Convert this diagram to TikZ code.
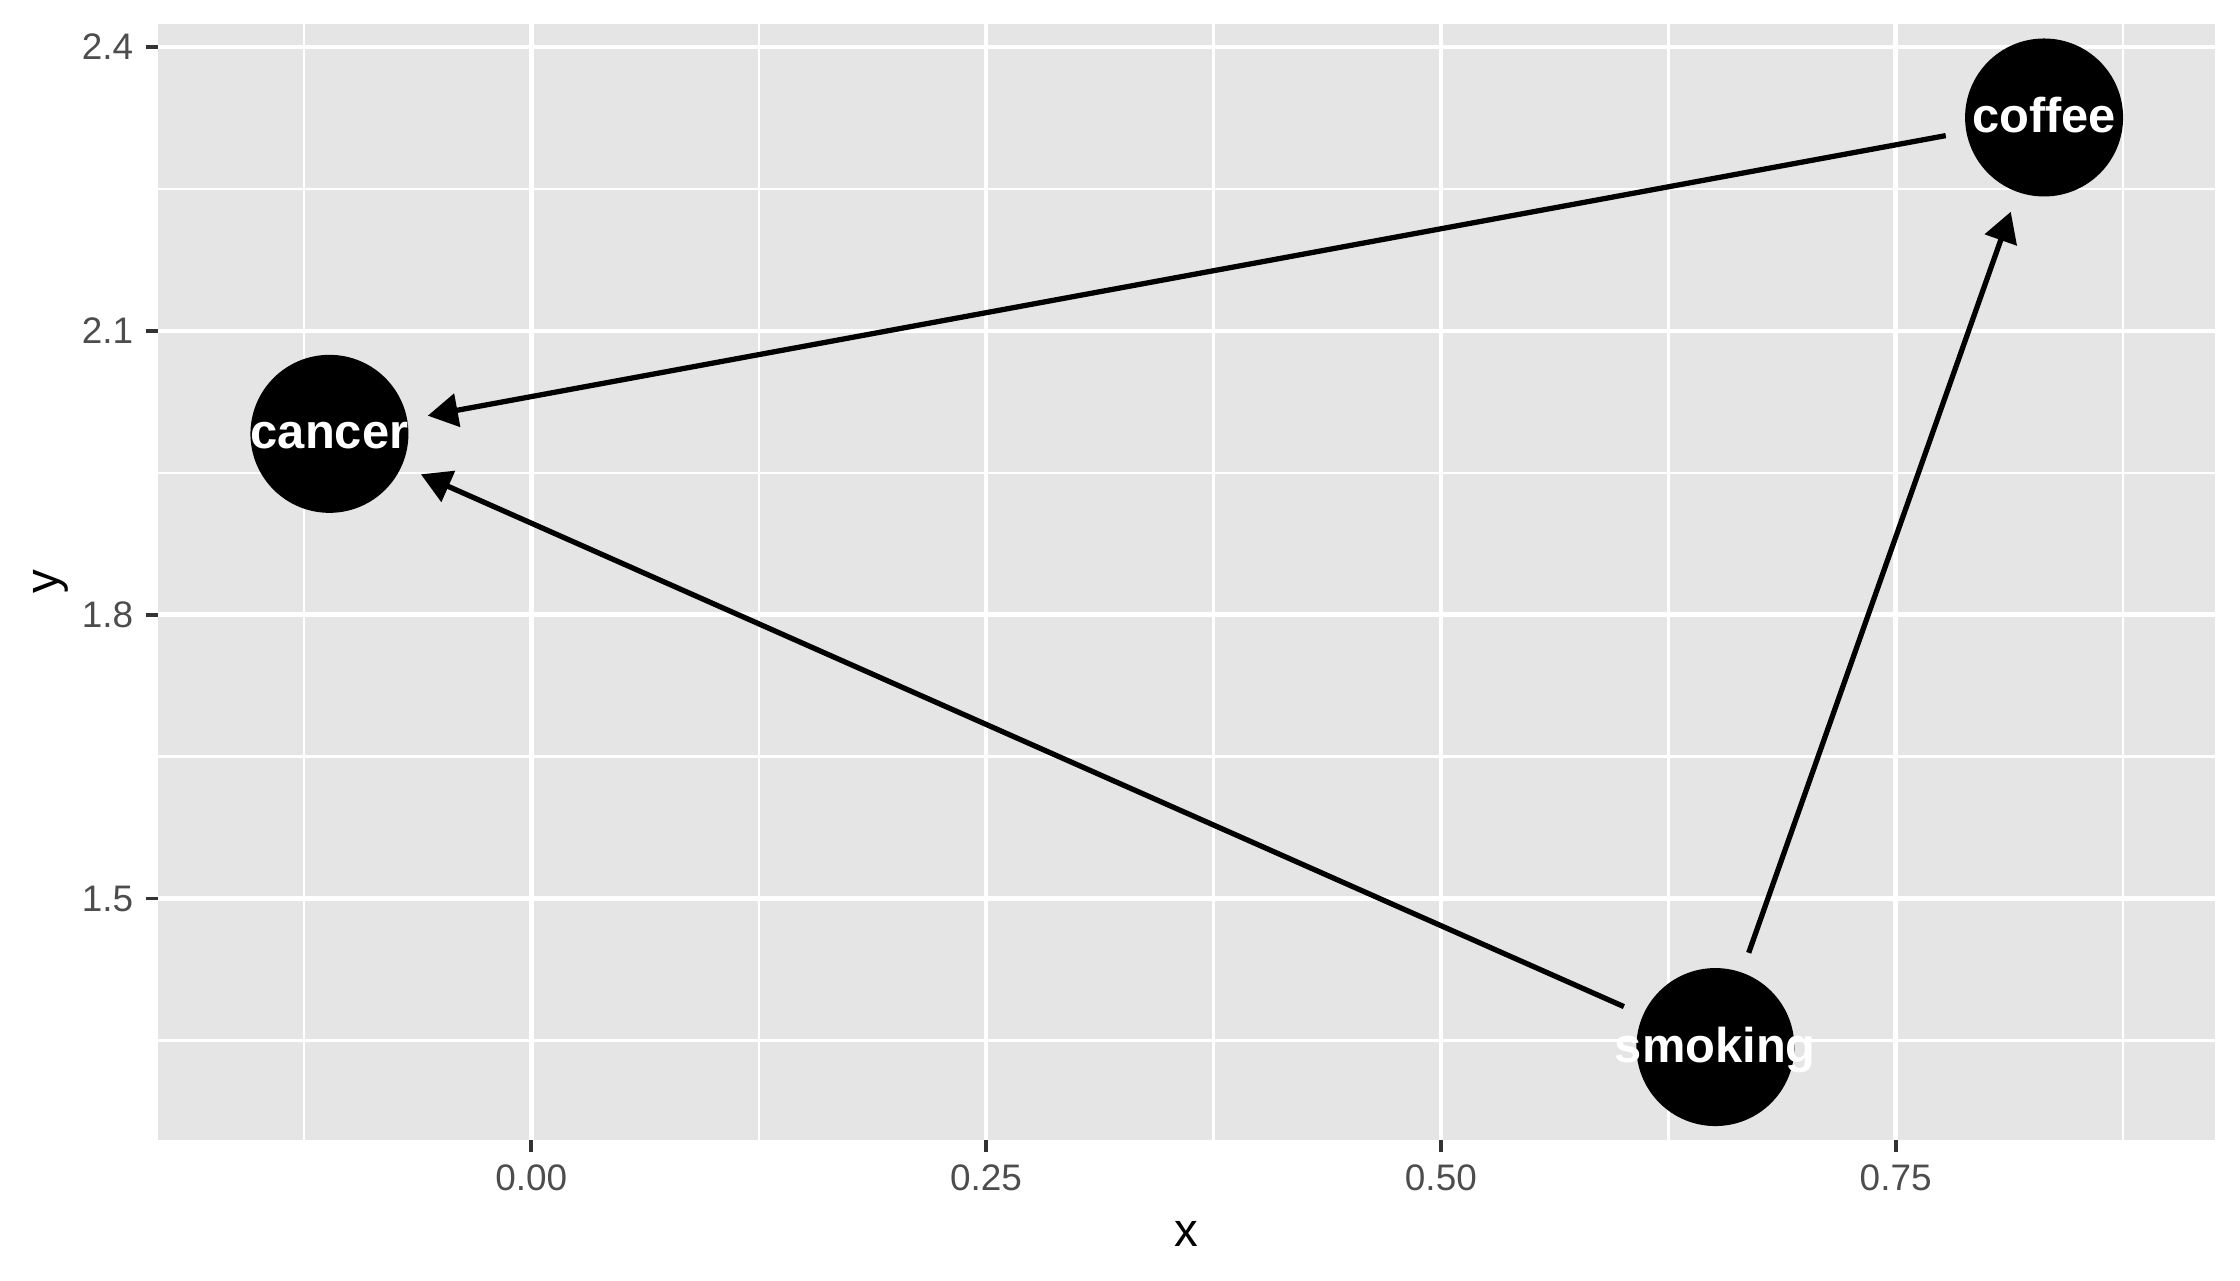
\documentclass[tikz,border=0pt]{standalone}
\usepackage{fontspec}
\setmainfont{Liberation Sans}
\usetikzlibrary{arrows.meta}
\definecolor{panelgrey}{HTML}{E5E5E5}
\definecolor{tickgrey}{HTML}{333333}
\definecolor{labelgrey}{HTML}{4D4D4D}
\begin{document}
\begin{tikzpicture}[x=18.19cm, y=9.46cm,
  majorgrid/.style={white, line width=1.3pt},
  minorgrid/.style={white, line width=0.7pt},
  tickmark/.style={tickgrey, line width=1.1pt},
  ticklabel/.style={labelgrey, inner sep=0pt, font=\fontsize{10.5}{12}\selectfont},
  axistitle/.style={black, inner sep=0pt, font=\fontsize{13.5}{16}\selectfont},
  dagnode/.style={circle, fill=black, minimum size=1.58cm, inner sep=0pt, outer sep=0.21cm},
  nodetext/.style={white, inner sep=0pt, text height=0.85em, text depth=0pt, font=\bfseries\fontsize{13.9}{16}\selectfont},
  edge/.style={-{Triangle[length=0.3cm, width=0.33cm]}, line width=1.5pt}]
\useasboundingbox (-0.2921,1.0967) rectangle (0.9393,2.4498);

% panel and grid
\fill[panelgrey] (-0.2053,1.2447) rectangle (0.9255,2.4244);
\foreach \gx in {-0.125,0.125,0.375,0.625,0.875}
  \draw[minorgrid] (\gx,1.2447) -- (\gx,2.4244);
\foreach \gy in {1.35,1.65,1.95,2.25}
  \draw[minorgrid] (-0.2053,\gy) -- (0.9255,\gy);
\foreach \gx in {0,0.25,0.5,0.75}
  \draw[majorgrid] (\gx,1.2447) -- (\gx,2.4244);
\foreach \gy in {1.5,1.8,2.1,2.4}
  \draw[majorgrid] (-0.2053,\gy) -- (0.9255,\gy);

% axes
\foreach \gx/\lab [count=\i] in {0/0.00,0.25/0.25,0.5/0.50,0.75/0.75} {
  \draw[tickmark] (\gx,1.2447) -- ++(0,-0.12cm);
  \node[ticklabel, anchor=north] (xlab\i) at ([yshift=-0.24cm]\gx,1.2447) {\lab};
}
\foreach \gy [count=\i] in {1.5,1.8,2.1,2.4} {
  \draw[tickmark] (-0.2053,\gy) -- ++(-0.12cm,0);
  \node[ticklabel, anchor=east] (ylab\i) at ([xshift=-0.24cm]-0.2053,\gy) {\gy};
}
\node[axistitle, anchor=base] (xtitle) at ([yshift=-1.06cm]0.3601,1.2447) {x};
\node[axistitle, rotate=90, anchor=base] (ytitle) at ([xshift=-0.99cm]-0.2053,1.8346) {y};

% graph
\node[dagnode] (cancer) at (-0.1110,1.9912) {};
\node[dagnode] (coffee) at (0.8316,2.3256) {};
\node[dagnode] (smoking) at (0.6509,1.3430) {};

\draw[edge] (coffee) -- (cancer);
\draw[edge] (smoking) -- (cancer);
\draw[edge] (smoking) -- (coffee);

\node[nodetext] (cancertext) at (cancer) {cancer};
\node[nodetext] (coffeetext) at (coffee) {coffee};
\node[nodetext] (smokingtext) at (smoking) {smoking};
\end{tikzpicture}
\end{document}
